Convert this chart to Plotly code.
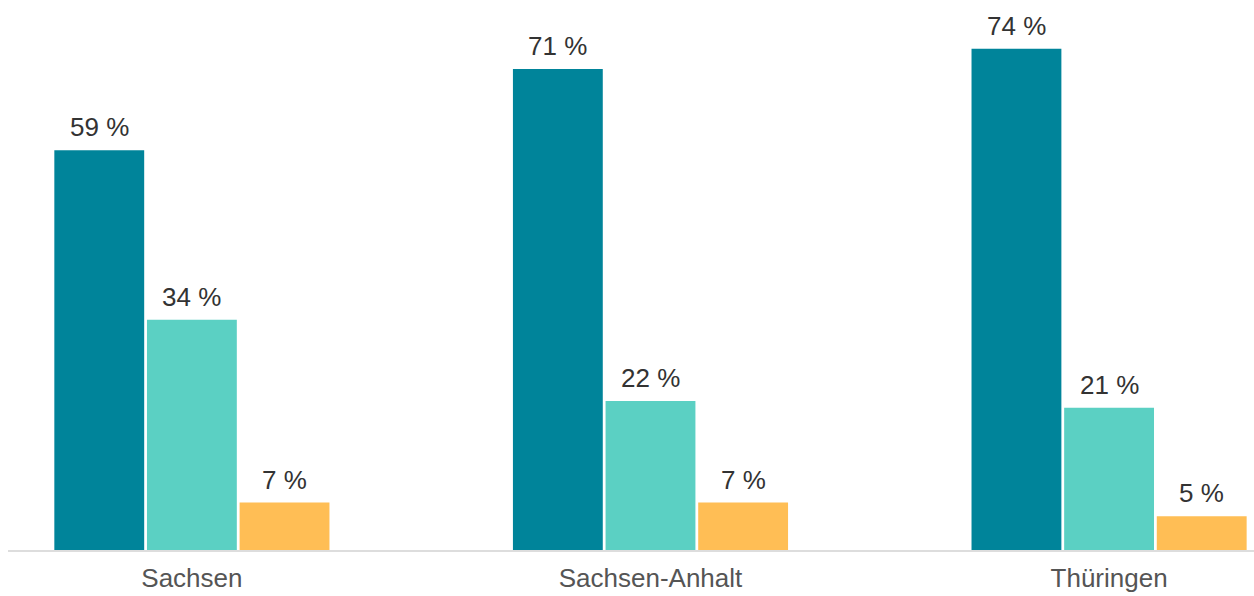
import plotly.graph_objects as go

# Regions and the three shares per region (percent)
regionen = ["Sachsen", "Sachsen-Anhalt", "Thüringen"]
serie_1 = [59, 71, 74]
serie_2 = [34, 22, 21]
serie_3 = [7, 7, 5]

farben = ["#00849A", "#5BD0C3", "#FFBE55"]
namen = ["Gruppe 1", "Gruppe 2", "Gruppe 3"]

FONT = "Liberation Sans, Arial, sans-serif"
BARGAP = 0.394
n_serien = 3
slot = (1 - BARGAP) / n_serien  # width of one bar slot in category units

fig = go.Figure()
annotations = []
for i, (name, werte, farbe) in enumerate(zip(namen, [serie_1, serie_2, serie_3], farben)):
    xs = list(range(len(regionen)))
    fig.add_trace(go.Bar(
        x=xs,
        y=werte,
        name=name,
        marker=dict(color=farbe, line=dict(width=0)),
        hoverinfo="skip",
    ))
    versatz = (i - (n_serien - 1) / 2) * slot
    for x, v in zip(xs, werte):
        annotations.append(dict(
            x=x + versatz, y=v, xref="x", yref="y",
            text=f"{v} %", showarrow=False,
            yanchor="middle", yshift=23,
            font=dict(family=FONT, size=26, color="#333333"),
        ))

fig.update_layout(
    width=1254,
    height=596,
    margin=dict(l=8, r=0, t=8, b=46),
    paper_bgcolor="white",
    plot_bgcolor="white",
    barmode="group",
    bargap=BARGAP,
    bargroupgap=0.03,
    showlegend=False,
    font=dict(family=FONT),
    annotations=annotations,
)
fig.update_xaxes(
    tickmode="array",
    tickvals=list(range(len(regionen))),
    ticktext=regionen,
    range=[-0.401, 2.316],
    automargin=False,
    showgrid=False,
    zeroline=False,
    showline=True,
    linecolor="#dddddd",
    linewidth=2,
    ticks="outside",
    ticklen=4,
    tickcolor="rgba(0,0,0,0)",
    tickfont=dict(family=FONT, size=26, color="#555555"),
)
fig.update_yaxes(
    range=[0, 80],
    visible=False,
    automargin=False,
)

fig.write_html("out.html")
